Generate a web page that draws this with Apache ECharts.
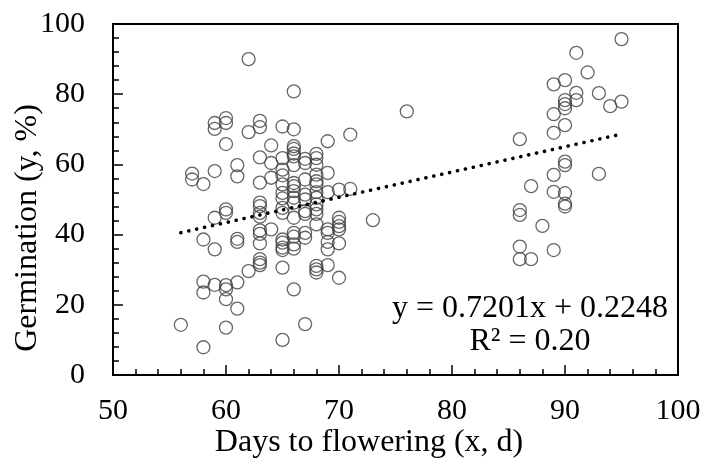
<!DOCTYPE html>
<html>
<head>
<meta charset="utf-8">
<script src="https://cdn.jsdelivr.net/npm/echarts@6/dist/echarts.min.js"></script>
<style>
html,body{margin:0;padding:0;background:#fff;}
#chart{width:705px;height:471px;}
</style>
</head>
<body>
<div id="chart"></div>
<script>
// Days to flowering (x) for each observation
var daysToFlowering = [
  56,
  57, 57,
  58, 58, 58, 58, 58,
  59, 59, 59, 59, 59, 59,
  60, 60, 60, 60, 60, 60, 60, 60, 60,
  61, 61, 61, 61, 61, 61,
  62, 62, 62,
  63, 63, 63, 63, 63, 63, 63, 63, 63, 63, 63, 63, 63, 63,
  64, 64, 64, 64,
  65, 65, 65, 65, 65, 65, 65, 65, 65, 65, 65, 65, 65, 65, 65,
  66, 66, 66, 66, 66, 66, 66, 66, 66, 66, 66, 66, 66, 66, 66, 66, 66, 66,
  67, 67, 67, 67, 67, 67, 67, 67, 67, 67,
  68, 68, 68, 68, 68, 68, 68, 68, 68, 68, 68, 68, 68, 68, 68,
  69, 69, 69, 69, 69, 69, 69, 69,
  70, 70, 70, 70, 70, 70, 70,
  71, 71,
  73,
  76,
  86, 86, 86, 86, 86,
  87, 87,
  88,
  89, 89, 89, 89, 89, 89,
  90, 90, 90, 90, 90, 90, 90, 90, 90, 90,
  91, 91, 91,
  92,
  93, 93,
  94,
  95, 95
];
// Germination (y, %) for each observation
var germination = [
  14.3,
  57.4, 55.7,
  54.4, 38.6, 26.6, 23.5, 7.9,
  71.8, 70.1, 58.1, 44.8, 35.8, 25.7,
  73.2, 71.8, 65.8, 47.2, 46.2, 25.6, 24.4, 21.6, 13.5,
  59.8, 56.6, 38.8, 37.9, 26.4, 18.9,
  90.0, 69.2, 29.6,
  72.4, 70.6, 62.0, 54.8, 49.1, 48.1, 46.2, 45.1, 41.2, 40.2, 37.5, 33.0, 32.0, 31.3,
  65.4, 60.4, 56.2, 41.5,
  70.8, 61.8, 58.5, 56.9, 54.3, 51.9, 50.3, 47.6, 46.2, 38.6, 37.7, 36.3, 35.6, 30.6, 10.0,
  80.8, 70.0, 65.2, 64.4, 63.1, 62.3, 59.8, 54.7, 53.8, 52.4, 50.5, 49.1, 44.8, 40.5, 39.4, 37.2, 36.0, 24.4,
  61.6, 60.4, 55.7, 51.4, 50.0, 46.7, 45.9, 40.5, 39.1, 14.5,
  63.0, 61.8, 59.9, 57.1, 55.2, 54.3, 52.1, 50.5, 48.6, 47.2, 45.9, 42.9, 31.1, 30.1, 29.2,
  66.6, 57.6, 52.1, 41.5, 40.5, 37.9, 35.8, 31.3,
  52.8, 44.8, 43.6, 42.4, 41.5, 37.5, 27.7,
  68.5, 53.0,
  44.1,
  75.1,
  67.2, 47.0, 45.6, 36.6, 33.0,
  53.8, 33.0,
  42.5,
  82.8, 74.3, 69.0, 57.0, 52.2, 35.6,
  84.0, 78.3, 77.2, 76.0, 71.2, 60.8, 59.8, 51.8, 48.8, 48.0,
  91.8, 80.4, 78.3,
  86.2,
  80.3, 57.3,
  76.6,
  95.7, 77.9
];
// Linear trend reported on the chart
var trendSlope = 0.7201;
var trendIntercept = 0.2248;
var equationText = 'y = 0.7201x + 0.2248';
var r2Text = 'R\u00b2 = 0.20';
var xTitle = 'Days to flowering (x, d)';
var yTitle = 'Germination (y, %)';

var points = daysToFlowering.map(function (d, i) { return [d, germination[i]]; });
var xMin = Math.min.apply(null, daysToFlowering);
var xMax = Math.max.apply(null, daysToFlowering);
var trend = [[xMin, trendSlope * xMin + trendIntercept], [xMax, trendSlope * xMax + trendIntercept]];

var FONT = '"Liberation Serif", "Times New Roman", serif';
var FS = 32;
var TICK_FS = 30;
var chart = echarts.init(document.getElementById('chart'), null, { renderer: 'canvas' });
chart.setOption({
  animation: false,
  backgroundColor: '#fff',
  grid: { left: 113, right: 27, top: 24, bottom: 96, show: true, borderColor: '#000', borderWidth: 2, backgroundColor: 'transparent' },
  xAxis: {
    type: 'value', min: 50, max: 100, interval: 10,
    axisLine: { show: true, onZero: false, lineStyle: { color: '#000', width: 2 } },
    axisTick: { show: true, inside: true, length: 10, lineStyle: { color: '#000', width: 1.5 } },
    minorTick: { show: true, splitNumber: 5, length: 6, lineStyle: { color: '#000', width: 1.5 } },
    splitLine: { show: false },
    axisLabel: { fontFamily: FONT, fontSize: TICK_FS, color: '#000', margin: 21 }
  },
  yAxis: {
    type: 'value', min: 0, max: 100, interval: 20,
    axisLine: { show: true, onZero: false, lineStyle: { color: '#000', width: 2 } },
    axisTick: { show: true, inside: true, length: 10, lineStyle: { color: '#000', width: 1.5 } },
    minorTick: { show: true, splitNumber: 5, length: 6, lineStyle: { color: '#000', width: 1.5 } },
    splitLine: { show: false },
    axisLabel: { fontFamily: FONT, fontSize: TICK_FS, color: '#000', margin: 28 }
  },
  series: [
    {
      type: 'scatter',
      data: points,
      symbol: 'circle',
      symbolSize: 13,
      itemStyle: { color: 'rgba(255,255,255,0)', borderColor: '#404040', borderWidth: 1.3 },
      z: 2
    },
    {
      type: 'line',
      data: trend,
      symbol: 'none',
      lineStyle: { color: '#000', width: 3.6, type: [0.1, 8], cap: 'round' },
      z: 3
    }
  ],
  graphic: [
    { type: 'text', x: 28, y: 228, rotation: Math.PI / 2, style: { text: yTitle, font: FS + 'px ' + FONT, fill: '#000', align: 'center', verticalAlign: 'middle' } },
    { type: 'text', x: 369, y: 443, style: { text: xTitle, font: FS + 'px ' + FONT, fill: '#000', align: 'center', verticalAlign: 'middle' } },
    { type: 'text', x: 668, y: 309, style: { text: equationText, font: FS + 'px ' + FONT, fill: '#000', align: 'right', verticalAlign: 'middle' } },
    { type: 'text', x: 530, y: 342, style: { text: r2Text, font: FS + 'px ' + FONT, fill: '#000', align: 'center', verticalAlign: 'middle' } }
  ]
});
</script>
</body>
</html>
